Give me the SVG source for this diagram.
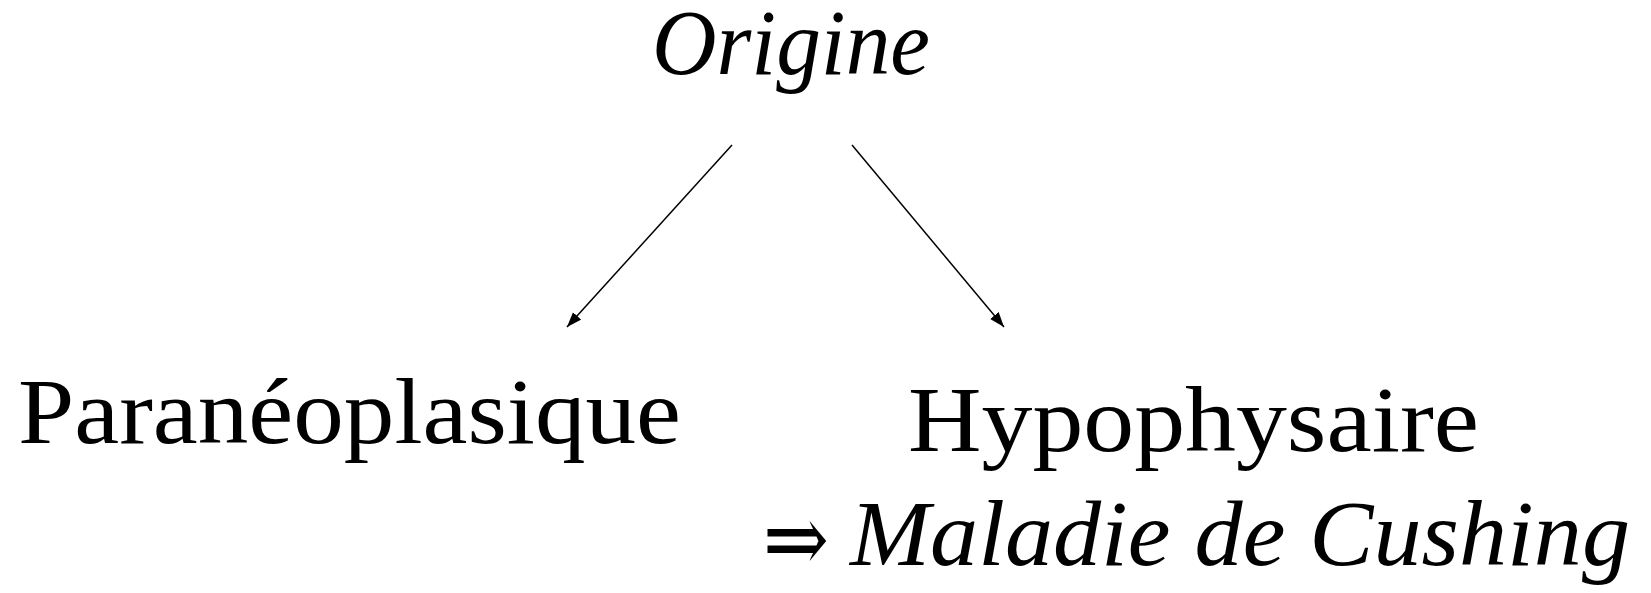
<svg xmlns="http://www.w3.org/2000/svg" width="1651" height="593" viewBox="0 0 1651 593">
  <style>
    .lbl { font-family: "Liberation Serif", "DejaVu Serif", serif; font-size: 93px; fill: #000; }
    .it { font-style: italic; }
    .sym { font-family: "DejaVu Serif", "Liberation Serif", serif; font-size: 96px; fill: #000; }
    .edge { stroke: #000; stroke-width: 1.5; fill: none; marker-end: url(#head); }
  </style>
  <defs>
    <marker id="head" markerUnits="userSpaceOnUse" markerWidth="16" markerHeight="12" refX="15" refY="5.5" orient="auto">
      <path d="M0,0 L15,5.5 L0,11 z" fill="#000"/>
    </marker>
  </defs>
  <rect width="1651" height="593" fill="#fff"/>

  <g id="connectors">
    <line class="edge" x1="732" y1="145" x2="567" y2="327"/>
    <line class="edge" x1="852" y1="145" x2="1004" y2="327"/>
  </g>

  <g id="origine">
    <text class="lbl it" x="652" y="74" textLength="278" lengthAdjust="spacingAndGlyphs">Origine</text>
  </g>

  <g id="paraneoplasique">
    <text class="lbl" x="18" y="443" textLength="663" lengthAdjust="spacingAndGlyphs">Paranéoplasique</text>
  </g>

  <g id="hypophysaire">
    <text class="lbl" x="908" y="451" textLength="571" lengthAdjust="spacingAndGlyphs">Hypophysaire</text>
    <text class="sym" x="763" y="572" textLength="66" lengthAdjust="spacingAndGlyphs">⇒</text>
    <text class="lbl it" x="850" y="565" textLength="780" lengthAdjust="spacingAndGlyphs">Maladie de Cushing</text>
  </g>
</svg>
